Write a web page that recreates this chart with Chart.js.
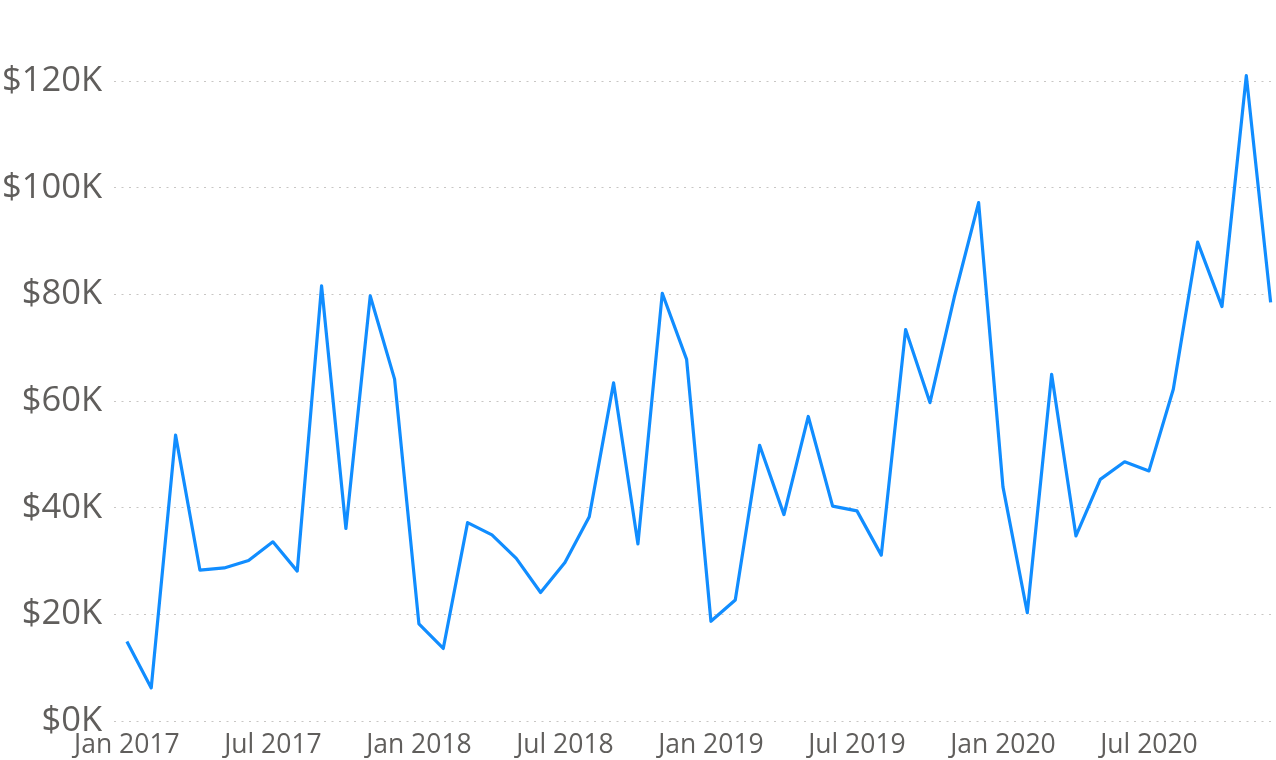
<!DOCTYPE html>
<html>
<head>
<meta charset="utf-8">
<script src="https://cdn.jsdelivr.net/npm/chart.js@4"></script>
<style>
  html, body { margin: 0; padding: 0; background: #fff; }
  #wrap { width: 1276px; height: 760px; }
</style>
</head>
<body>
<div id="wrap"><canvas id="salesChart"></canvas></div>
<script>
const months = [
  "Jan 2017", "Feb 2017", "Mar 2017", "Apr 2017", "May 2017", "Jun 2017",
  "Jul 2017", "Aug 2017", "Sep 2017", "Oct 2017", "Nov 2017", "Dec 2017",
  "Jan 2018", "Feb 2018", "Mar 2018", "Apr 2018", "May 2018", "Jun 2018",
  "Jul 2018", "Aug 2018", "Sep 2018", "Oct 2018", "Nov 2018", "Dec 2018",
  "Jan 2019", "Feb 2019", "Mar 2019", "Apr 2019", "May 2019", "Jun 2019",
  "Jul 2019", "Aug 2019", "Sep 2019", "Oct 2019", "Nov 2019", "Dec 2019",
  "Jan 2020", "Feb 2020", "Mar 2020", "Apr 2020", "May 2020", "Jun 2020",
  "Jul 2020", "Aug 2020", "Sep 2020", "Oct 2020", "Nov 2020", "Dec 2020"
];

// sales in thousands of dollars
const sales = [
  14.9, 6.2, 53.6, 28.3, 28.7, 30.1, 33.6, 28.1, 81.6, 36.1, 79.7, 64.1,
  18.2, 13.6, 37.2, 34.9, 30.5, 24.1, 29.7, 38.3, 63.4, 33.2, 80.2, 67.8,
  18.7, 22.7, 51.7, 38.7, 57.1, 40.3, 39.4, 31.1, 73.4, 59.7, 79.5, 97.2,
  43.9, 20.3, 65.0, 34.7, 45.3, 48.6, 46.9, 62.2, 89.8, 77.7, 121.0, 78.5
];

const xTickLabels = ["Jan 2017", "Jul 2017", "Jan 2018", "Jul 2018", "Jan 2019", "Jul 2019", "Jan 2020", "Jul 2020"];
const yTickValues = [0, 20, 40, 60, 80, 100, 120];

const textColor = "#605E5C";
const fontFamily = "'Segoe UI', 'Open Sans', sans-serif";

const ctx = document.getElementById("salesChart").getContext("2d");
new Chart(ctx, {
  type: "line",
  data: {
    datasets: [{
      label: "Sales",
      data: months.map((m, i) => ({ x: i, y: sales[i] })),
      borderColor: "#118DFF",
      borderWidth: 3.2,
      borderJoinStyle: "round",
      pointRadius: 0,
      tension: 0,
      fill: false
    }]
  },
  options: {
    responsive: true,
    maintainAspectRatio: false,
    animation: false,
    layout: { padding: { top: 27.7, left: 0, right: 0, bottom: 0 } },
    plugins: {
      legend: { display: false },
      tooltip: { enabled: false }
    },
    scales: {
      x: {
        type: "linear",
        min: -0.53,
        max: 47.22,
        afterBuildTicks: s => {
          s.ticks = xTickLabels.map(l => ({ value: months.indexOf(l) }));
        },
        afterFit: s => {
          s.height = 39;
          s.paddingLeft = 0;
          s.paddingRight = 0;
        },
        grid: { display: false, drawTicks: false },
        border: { display: false },
        ticks: {
          autoSkip: false,
          maxRotation: 0,
          padding: 9,
          color: textColor,
          font: { family: fontFamily, size: 26.5 },
          callback: v => months[v]
        }
      },
      y: {
        min: 0,
        max: 130,
        afterBuildTicks: s => {
          s.ticks = yTickValues.map(v => ({ value: v }));
        },
        afterFit: s => {
          s.width = 114;
          s.paddingTop = 0;
          s.paddingBottom = 0;
        },
        grid: { color: "#C8C6C4", lineWidth: 1, drawTicks: false },
        border: { display: false, dash: [2, 5.5] },
        ticks: {
          padding: 12,
          color: textColor,
          font: { family: fontFamily, size: 34.5 },
          callback: v => "$" + v + "K"
        }
      }
    }
  }
});
</script>
</body>
</html>
